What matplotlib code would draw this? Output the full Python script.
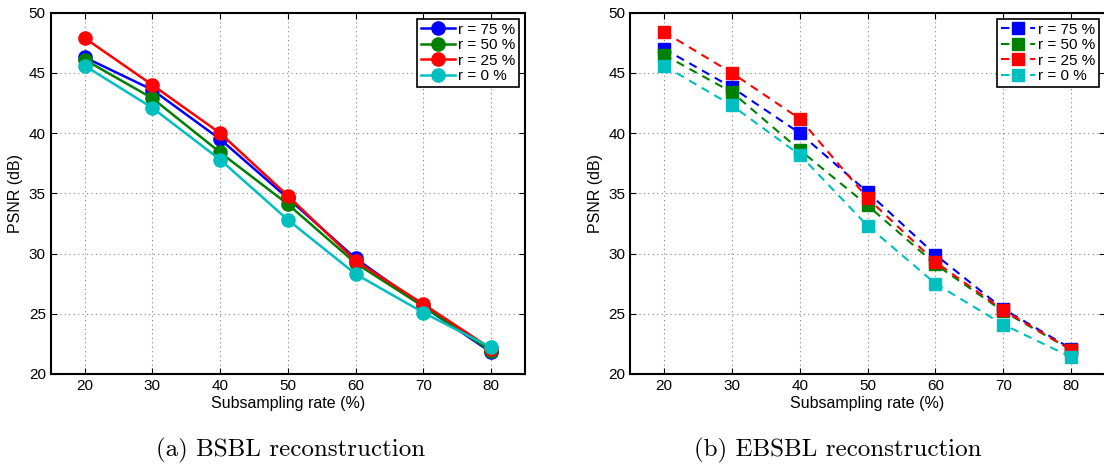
import numpy as np
import matplotlib.pyplot as plt

# subsampling rates (%)
rates = [20, 30, 40, 50, 60, 70, 80]
labels = ["r = 75 %", "r = 50 %", "r = 25 %", "r = 0 %"]
colors = [(0, 0, 1), (0, 0.5, 0), (1, 0, 0), (0, 0.75, 0.75)]

# BSBL reconstruction PSNR (dB)
bsbl_r75 = [46.3, 43.6, 39.5, 34.6, 29.6, 25.6, 21.8]
bsbl_r50 = [46.1, 42.9, 38.4, 34.1, 29.2, 25.6, 21.9]
bsbl_r25 = [47.9, 44.0, 40.0, 34.8, 29.4, 25.8, 22.1]
bsbl_r0 = [45.6, 42.1, 37.8, 32.8, 28.3, 25.1, 22.2]

# EBSBL reconstruction PSNR (dB)
ebsbl_r75 = [47.0, 43.8, 40.0, 35.1, 29.9, 25.4, 22.1]
ebsbl_r50 = [46.5, 43.4, 38.6, 34.0, 29.1, 25.2, 22.0]
ebsbl_r25 = [48.4, 45.0, 41.2, 34.6, 29.3, 25.3, 22.0]
ebsbl_r0 = [45.6, 42.3, 38.2, 32.3, 27.5, 24.1, 21.4]

plt.rcParams['font.family'] = ['Liberation Sans', 'DejaVu Sans']

fig = plt.figure(figsize=(11.04, 4.68), dpi=100)
ax1 = fig.add_axes([0.0459, 0.2009, 0.4296, 0.772])
ax2 = fig.add_axes([0.5707, 0.2009, 0.4303, 0.772])


def style(ax):
    ax.set_xlim(15, 85)
    ax.set_ylim(20, 50)
    ax.set_xticks(rates)
    ax.set_yticks(np.arange(20, 51, 5))
    ax.tick_params(direction='in', top=True, right=True, labelsize=11, length=4)
    ax.grid(True, linestyle=(0, (1, 3)), color='0.5', linewidth=0.8)
    for s in ax.spines.values():
        s.set_linewidth(1.5)
    ax.set_xlabel("Subsampling rate (%)", fontsize=11.5, labelpad=2)
    ax.set_ylabel("PSNR (dB)", fontsize=11.5, labelpad=4)


for vals, lab, c in zip([bsbl_r75, bsbl_r50, bsbl_r25, bsbl_r0], labels, colors):
    ax1.plot(rates, vals, '-o', color=c, lw=1.8, markersize=9.5, markeredgecolor=c, label=lab)
for vals, lab, c in zip([ebsbl_r75, ebsbl_r50, ebsbl_r25, ebsbl_r0], labels, colors):
    ax2.plot(rates, vals, '--s', color=c, lw=1.5, markersize=8, markeredgecolor=c,
             dashes=(4, 3), label=lab)

for ax in (ax1, ax2):
    style(ax)
    leg = ax.legend(loc='upper right', fontsize=11, fancybox=False, framealpha=1,
                    edgecolor='black', borderpad=0.25, labelspacing=0.1,
                    handlelength=2.2, handletextpad=0.2, borderaxespad=0.4)
    leg.get_frame().set_linewidth(1.2)

fig.text(0.263, 0.025, "(a) BSBL reconstruction", family='cmr10', fontsize=18, ha='center')
fig.text(0.759, 0.025, "(b) EBSBL reconstruction", family='cmr10', fontsize=18, ha='center')

fig.savefig("out.png", dpi=100)
